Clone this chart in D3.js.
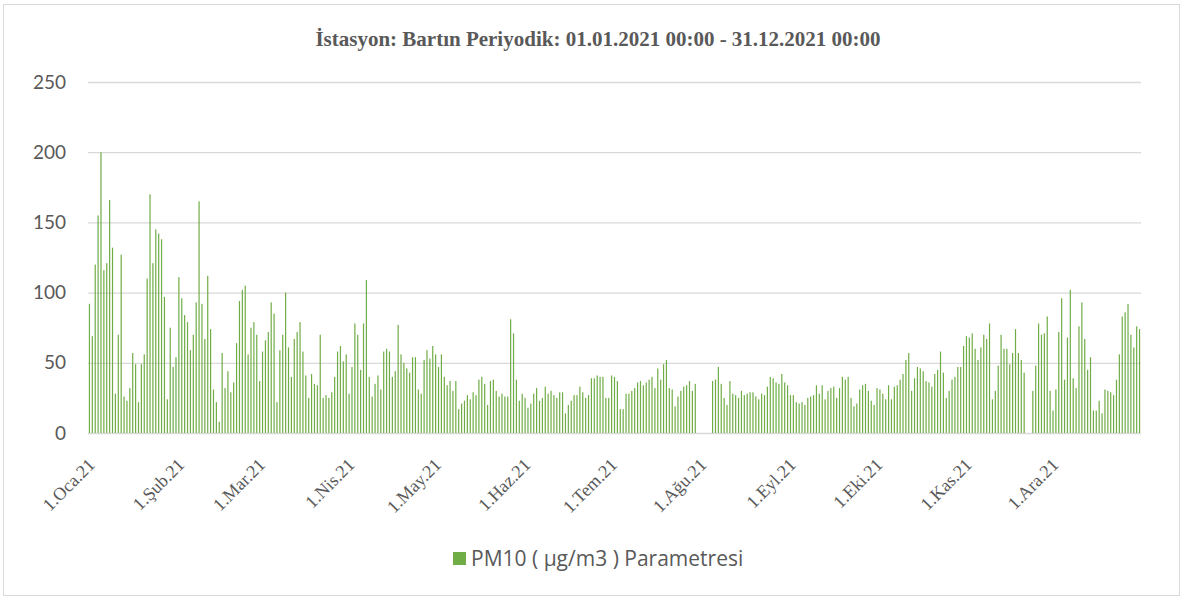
<!DOCTYPE html>
<meta charset="utf-8">
<style>
    body { margin: 0; background: #fff; }
    .title { font: bold 21px "Liberation Serif", serif; fill: #595959; }
    .xaxis text { font: 18px "Liberation Serif", serif; fill: #595959; }
    .yaxis text { font: 19px Lato, sans-serif; fill: #595959; }
    .legend text { font: 21px "Open Sans", sans-serif; fill: #595959; }
</style>
<body>
<script src="https://cdn.jsdelivr.net/npm/d3@7"></script>
<script>
    var width = 1184,
        height = 598

    // daily PM10 values, 1 Jan 2021 .. 31 Dec 2021 (null = no data)
    var pm10 = [
        92,69,120,155,200,116,121,166,132,28,70,127,26,23,32,57,49,22,49,56,110,170,121,145,142,138,97,24,75,47,54,
        111,96,84,79,59,70,93,165,92,67,112,74,31,22,8,57,32,44,29,36,64,94,102,105,56,75,79,70,
        37,58,66,72,93,85,22,59,70,100,61,40,67,72,79,58,41,25,42,35,34,70,25,27,25,29,40,58,62,51,
        56,28,47,78,70,45,78,109,40,26,35,41,31,58,60,58,40,44,77,56,50,46,43,54,54,31,28,52,59,53,
        62,56,47,56,40,34,37,30,37,17,21,23,27,24,29,27,38,40,35,20,37,38,30,26,28,26,26,81,71,38,23,
        28,25,18,21,28,32,23,25,33,28,30,27,25,29,29,14,20,23,27,27,33,29,25,27,39,39,41,40,40,25,
        25,41,40,37,17,17,28,28,30,32,36,37,34,36,38,40,32,46,38,49,52,32,31,19,26,30,33,34,37,30,35,
        null,null,null,null,null,37,38,47,35,25,20,37,28,27,25,30,27,28,29,29,26,24,28,27,33,40,39,36,35,42,36,
        34,27,27,22,21,22,20,25,26,27,34,28,34,24,30,32,33,25,32,40,38,40,25,19,21,31,34,35,30,23,
        20,32,31,28,24,34,24,33,34,38,42,52,57,30,39,47,46,44,37,36,33,42,45,58,43,25,30,38,40,47,47,
        62,69,68,71,60,52,61,70,67,78,24,30,48,70,60,60,49,57,74,57,52,43,null,null,30,48,78,70,71,
        83,30,16,31,72,96,38,68,102,39,32,76,93,67,45,54,16,16,23,14,31,30,29,27,38,56,83,86,92,70,61,76,74
    ]

    var monthStart = [0, 31, 59, 90, 120, 151, 181, 212, 243, 273, 304, 334]
    var monthLabels = ["1.Oca.21", "1.Şub.21", "1.Mar.21", "1.Nis.21", "1.May.21", "1.Haz.21",
        "1.Tem.21", "1.Ağu.21", "1.Eyl.21", "1.Eki.21", "1.Kas.21", "1.Ara.21"]
    var yTicks = [0, 50, 100, 150, 200, 250]

    var title = "İstasyon: Bartın Periyodik: 01.01.2021 00:00 - 31.12.2021 00:00"
    var seriesName = "PM10 ( µg/m3 ) Parametresi"
    var green = "#70ad47"

    var plotLeft = 88, plotRight = 1141, plotTop = 82, plotBottom = 433

    var svg = d3.select("body").append("svg")
        .attr("width", width)
        .attr("height", height)

    svg.append("rect")
        .attr("x", 3.5).attr("y", 4.5)
        .attr("width", 1176).attr("height", 591)
        .attr("fill", "#fff")
        .attr("stroke", "#d9d9d9")

    var x = d3.scaleLinear().domain([0, pm10.length]).range([plotLeft, plotRight])
    var y = d3.scaleLinear().domain([0, 250]).range([plotBottom, plotTop])

    // y axis + gridlines
    var yAxis = svg.append("g")
        .attr("class", "yaxis")
        .attr("transform", "translate(" + plotLeft + ",0)")
        .call(d3.axisLeft(y).tickValues(yTicks).tickSize(-(plotRight - plotLeft)).tickPadding(22))
    yAxis.select(".domain").remove()
    yAxis.selectAll("line").attr("stroke", "#d9d9d9").attr("stroke-width", 1.3)

    // bars
    var days = pm10.map(function (v, i) { return { i: i, v: v } })
        .filter(function (d) { return d.v != null })

    svg.append("g")
        .selectAll("rect")
        .data(days)
        .enter().append("rect")
        .attr("x", function (d) { return x(d.i + 0.5) - 0.6 })
        .attr("width", 1.2)
        .attr("y", function (d) { return y(d.v) })
        .attr("height", function (d) { return y(0) - y(d.v) })
        .attr("fill", green)

    // x axis labels
    var xAxis = svg.append("g")
        .attr("class", "xaxis")
        .attr("transform", "translate(0," + plotBottom + ")")
        .call(d3.axisBottom(x)
            .tickValues(monthStart.map(function (m) { return m + 0.5 }))
            .tickFormat(function (d, i) { return monthLabels[i] })
            .tickSize(0))
    xAxis.select(".domain").remove()
    xAxis.selectAll("text")
        .attr("text-anchor", "end")
        .attr("dy", null)
        .attr("y", 0)
        .attr("transform", "translate(6,33) rotate(-45)")

    svg.append("text")
        .attr("class", "title")
        .attr("x", 598)
        .attr("y", 46)
        .attr("text-anchor", "middle")
        .text(title)

    var legend = svg.append("g").attr("class", "legend")
    legend.append("rect")
        .attr("x", 453).attr("y", 552)
        .attr("width", 13).attr("height", 13)
        .attr("fill", green)
    legend.append("text")
        .attr("x", 471).attr("y", 566)
        .text(seriesName)
</script>
